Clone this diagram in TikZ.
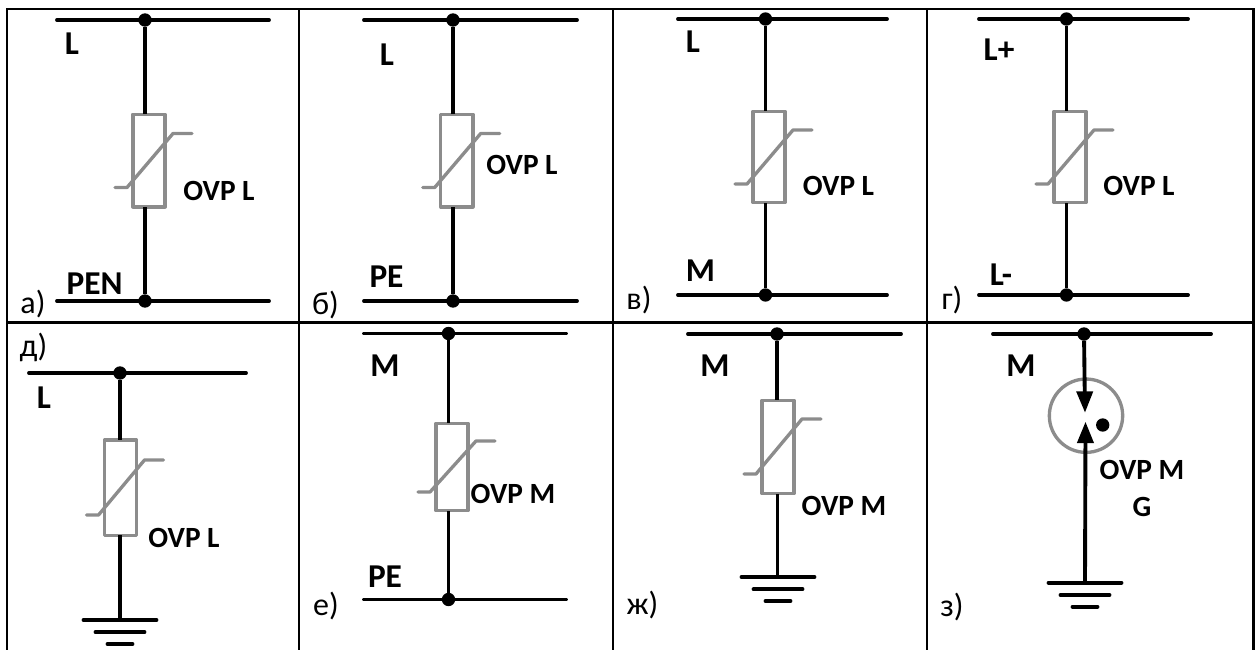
\documentclass[tikz,border=0pt]{standalone}
\usepackage{fontspec}
\setmainfont{Carlito}
\usetikzlibrary{arrows.meta,calc}
\tikzset{
  frameline/.style={line width=2.2pt,black},
  wire/.style={line width=2.9pt,black,line cap=round},
  jdot/.style={circle,fill=black,inner sep=0pt,outer sep=0pt,minimum size=10pt},
  varbox/.style={rectangle,draw=vgrey,line width=2.5pt,line join=round,inner sep=0pt,outer sep=0pt,minimum width=24.2pt},
  vcurve/.style={draw=vgrey,line width=2.5pt,line cap=round,line join=round},
  bigbold/.style={font=\bfseries\fontsize{25}{27}\selectfont,inner sep=0pt},
  ovp/.style={font=\bfseries\fontsize{22}{24}\selectfont,inner sep=0pt},
  tag/.style={font=\fontsize{24}{26}\selectfont,inner sep=0pt},
  gapbolt/.style={wire,line cap=butt,-{Triangle[length=16pt,width=12pt]}}
}
\definecolor{vgrey}{RGB}{140,140,140}
% id, x1, x2, y
\newcommand{\busbar}[4]{%
  \coordinate (#1-l) at (#2,#4);
  \coordinate (#1-r) at (#3,#4);
  \draw[wire] (#1-l) -- (#1-r);
}
% id, cx, cy, h(pt), dyLow, dyHigh
\newcommand{\varistor}[6]{%
  \node[varbox,minimum height=#4pt] (#1) at (#2,#3) {};
  \draw[vcurve] ($(#1.center)+(-34,#5)$) -- ++(12,0) -- ($(#1.center)+(24,#6)$) -- ++(19,0);
}
% id, x, y
\newcommand{\earth}[3]{%
  \coordinate (#1-a) at (#2-36.5,#3);
  \coordinate (#1-b) at (#2+36.5,#3);
  \coordinate (#1-c) at (#2-24.5,#3+12.2);
  \coordinate (#1-d) at (#2+24.5,#3+12.2);
  \coordinate (#1-e) at (#2-12.5,#3+24);
  \coordinate (#1-f) at (#2+12.5,#3+24);
  \draw[wire] (#1-a) -- (#1-b);
  \draw[wire] (#1-c) -- (#1-d);
  \draw[wire] (#1-e) -- (#1-f);
}
\begin{document}
\begin{tikzpicture}[x=0.75pt,y=-0.75pt]
\useasboundingbox (0,0) rectangle (1259,650);
% table
\draw[frameline] (7,9) -- (1253.5,9);
\draw[frameline] (7,322.5) -- (1253.5,322.5);
\draw[frameline] (7,8) -- (7,650);
\draw[frameline] (299,9) -- (299,650);
\draw[frameline] (613,9) -- (613,650);
\draw[frameline] (927,9) -- (927,650);
\draw[frameline] (1253.5,8) -- (1253.5,650);

% a
\busbar{atop}{57}{269}{20}
\busbar{abot}{57}{269}{301}
\node[jdot] (adot1) at (145,20) {};
\node[jdot] (adot2) at (145,301) {};
\varistor{abox}{149}{160.5}{69.5}{27}{-27}
\draw[wire,line cap=butt] (adot1) -- (adot1 |- abox.north);
\draw[wire,line cap=butt] (adot2) -- (adot2 |- abox.south);
\node[bigbold] (alab1) at (72,44) {L};
\node[bigbold] (alab2) at (94.5,284) {PEN};
\node[ovp] (alab3) at (219,191) {OVP L};
\node[tag] (atag) at (33,304) {а)};

% b
\busbar{btop}{364}{577}{20}
\busbar{bbot}{364}{577}{301}
\node[jdot] (bdot1) at (453,20) {};
\node[jdot] (bdot2) at (453,301) {};
\varistor{bbox}{456.7}{160.5}{69.5}{27}{-27}
\draw[wire,line cap=butt] (bdot1) -- (bdot1 |- bbox.north);
\draw[wire,line cap=butt] (bdot2) -- (bdot2 |- bbox.south);
\node[bigbold] (blab1) at (387,55) {L};
\node[bigbold] (blab2) at (386.5,277) {PE};
\node[ovp] (blab3) at (522,165) {OVP L};
\node[tag] (btag) at (325.5,305) {б)};

% c
\busbar{ctop}{678}{887}{19}
\busbar{cbot}{678}{887}{295}
\node[jdot] (cdot1) at (765.5,19) {};
\node[jdot] (cdot2) at (765.5,295) {};
\varistor{cbox}{769}{157}{68.5}{27}{-27}
\draw[wire,line cap=butt] (cdot1) -- (cdot1 |- cbox.north);
\draw[wire,line cap=butt] (cdot2) -- (cdot2 |- cbox.south);
\node[bigbold] (clab1) at (693,42) {L};
\node[bigbold] (clab2) at (700.5,271) {M};
\node[ovp] (clab3) at (838.5,186) {OVP L};
\node[tag] (ctag) at (639,300) {в)};

% d
\busbar{dtop}{979}{1188}{19}
\busbar{dbot}{979}{1188}{295}
\node[jdot] (ddot1) at (1066.5,19) {};
\node[jdot] (ddot2) at (1066.5,295) {};
\varistor{dbox}{1070}{157}{68.5}{27}{-27}
\draw[wire,line cap=butt] (ddot1) -- (ddot1 |- dbox.north);
\draw[wire,line cap=butt] (ddot2) -- (ddot2 |- dbox.south);
\node[bigbold] (dlab1) at (999,50) {L+};
\node[bigbold] (dlab2) at (1001,275) {L-};
\node[ovp] (dlab3) at (1139,186) {OVP L};
\node[tag] (dtag) at (952,300) {г)};

% e
\busbar{etop}{29}{246}{373}
\node[jdot] (edot1) at (120,373) {};
\varistor{ebox}{120.5}{487.5}{71.5}{27.5}{-27.5}
\earth{eg}{120}{620}
\coordinate (egtop) at (120,620);
\draw[wire,line cap=butt] (edot1) -- (edot1 |- ebox.north);
\draw[wire,line cap=butt] (egtop) -- (egtop |- ebox.south);
\node[bigbold] (elab1) at (44,398) {L};
\node[ovp] (elab3) at (184,538) {OVP L};
\node[tag] (etag) at (33.5,347) {д)};

% f
\busbar{ftop}{364}{566}{333.5}
\busbar{fbot}{364}{566}{599.5}
\node[jdot] (fdot1) at (448.5,333.5) {};
\node[jdot] (fdot2) at (448.5,599.5) {};
\varistor{fbox}{452}{467}{65.5}{25}{-26}
\draw[wire,line cap=butt] (fdot1) -- (fdot1 |- fbox.north);
\draw[wire,line cap=butt] (fdot2) -- (fdot2 |- fbox.south);
\node[bigbold] (flab1) at (385,366) {M};
\node[bigbold] (flab2) at (385,577) {PE};
\node[ovp] (flab3) at (513,494) {OVP M};
\node[tag] (ftag) at (326,606) {е)};

% g
\busbar{gtop}{688}{901}{334}
\node[jdot] (gdot1) at (777,334) {};
\varistor{gbox}{778}{447}{70}{27}{-28}
\earth{gg}{778}{577}
\coordinate (ggtop) at (777.5,577);
\draw[wire,line cap=butt] (gdot1) -- (gdot1 |- gbox.north);
\draw[wire,line cap=butt] (ggtop) -- (ggtop |- gbox.south);
\node[bigbold] (glab1) at (715,366) {M};
\node[ovp] (glab3) at (844,506) {OVP M};
\node[tag] (gtag) at (642.5,605) {ж)};

% h
\busbar{htop}{993}{1211}{334}
\node[jdot] (hdot1) at (1084,334) {};
\node[circle,draw=vgrey,line width=2.5pt,inner sep=0pt,outer sep=0pt,minimum size=55pt] (hcirc) at (1086,415.7) {};
\coordinate (htip1) at (1085,412.7);
\coordinate (htip2) at (1085.5,421.7);
\earth{hg}{1085}{582.7}
\coordinate (hgtop) at (1085,582.7);
\draw[gapbolt] (hdot1) -- (htip1);
\draw[gapbolt] (hgtop) -- (htip2);
\node[jdot,minimum size=10pt] (hdot2) at (1102.7,425) {};
\node[bigbold] (hlab1) at (1021,366) {M};
\node[ovp] (hlab3) at (1142,470) {OVP M};
\node[ovp] (hlab4) at (1142,507) {G};
\node[tag] (htag) at (952,607) {з)};
\end{tikzpicture}
\end{document}
